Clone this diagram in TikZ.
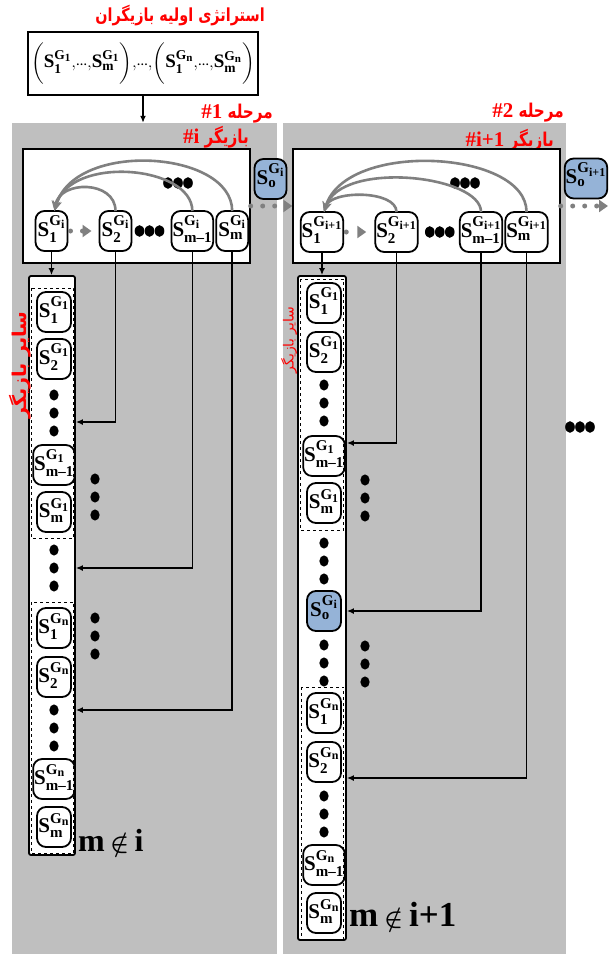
\documentclass[tikz,border=0pt]{standalone}
\usepackage{amsmath}
\usepackage{fontspec}
\setmainfont{Liberation Serif}
\newfontfamily\persian[Script=Arabic]{DejaVu Sans}
\newfontfamily\persiancond[Script=Arabic,FakeStretch=0.8]{DejaVu Sans}
\TeXXeTstate=1
\DeclareMathSizes{21}{21}{15}{12}
\DeclareMathSizes{19}{19}{13.5}{11}
\usepackage{tikz}
\usetikzlibrary{calc,arrows.meta,positioning}
\definecolor{panelgray}{RGB}{191,191,191}
\definecolor{linkgray}{RGB}{128,128,128}
\definecolor{stateblue}{RGB}{149,179,215}
\definecolor{labelred}{RGB}{255,0,0}
\newcommand{\bs}[1]{\text{\bfseries #1}}
\newcommand{\sv}[2]{\ensuremath{\bs{S}^{\bs{G}_{\bs{#2}}}_{\bs{#1}}}}
\newcommand{\ellip}{\raisebox{2pt}{\fontsize{11}{11}\selectfont\bfseries\ldots}}
\newcommand{\fa}[1]{{\persian\beginR #1\endR}}
\newcommand{\facond}[1]{{\persiancond\beginR #1\endR}}
\newcommand{\latn}[1]{\beginL{\rmfamily\fontsize{21}{21}\selectfont #1}\endL}
\tikzset{
	panel/.style={fill=panelgray, inner sep=0pt},
	game/.style={draw, line width=1.4pt, fill=white, inner sep=0pt},
	initbox/.style={
		draw, line width=1.4pt, fill=white, inner sep=0pt,
		font=\fontsize{19}{19}\selectfont
	},
	strat/.style={
		draw, line width=1.8pt, rounded corners=9pt, fill=white,
		minimum width=32pt, minimum height=40pt, inner xsep=1pt, inner ysep=0pt,
		outer sep=0pt, text height=20pt, text depth=10pt,
		font=\fontsize{21}{21}\selectfont
	},
	colstrat/.style={strat, minimum width=34pt},
	column/.style={draw, line width=1.8pt, fill=white, rounded corners=2pt, inner sep=0pt},
	group/.style={dashed, line width=0.9pt},
	link/.style={draw, line width=1.5pt, -{Latex[length=7pt,width=6pt]}},
	back/.style={draw=linkgray, line width=2.6pt, -{Stealth[length=10pt,width=9pt]}},
	dotlink/.style={
		draw=linkgray, line width=5pt, line cap=round,
		dash pattern=on 0pt off 12pt, -{Triangle[length=9pt,width=12pt]}
	},
	hdots/.style={
		minimum width=34pt, minimum height=14pt, inner sep=0pt, outer sep=0pt,
		path picture={
			\foreach \off in {-10,0,10}
				\fill ([xshift=\off pt]path picture bounding box.center) ellipse (4.8pt and 5.8pt);
		}
	},
	vdots/.style={
		minimum width=14pt, minimum height=54pt, inner sep=0pt, outer sep=0pt,
		path picture={
			\foreach \off in {-18,0,18}
				\fill ([yshift=\off pt]path picture bounding box.center) ellipse (4.6pt and 5.6pt);
		}
	},
	stagelabel/.style={text=labelred, font=\fontsize{19}{19}\selectfont\bfseries, inner sep=0pt},
	sidelabel/.style={text=labelred, font=\fontsize{19}{19}\selectfont\bfseries, inner sep=0pt},
	cond/.style={font=\fontsize{32}{32}\selectfont\bfseries, inner sep=0pt}
}
\begin{document}
\begin{tikzpicture}[x=1pt,y=-1pt]
	\useasboundingbox (0,0) rectangle (609,954);
	\node[panel, minimum width=265pt, minimum height=831pt] (stage1) at (144.5,538.5) {};
	\node[panel, minimum width=283pt, minimum height=831pt] (stage2) at (424.5,538.5) {};
	\node[initbox, minimum width=230pt, minimum height=63pt] (init) at (143,63.5)
		{$\biggl(\sv{1}{1}{,}\ellip{,}\sv{m}{1}\biggr){,}\ellip{,}\biggl(\sv{1}{n}{,}\ellip{,}\sv{m}{n}\biggr)$};
	\node[stagelabel, font=\fontsize{18}{18}\selectfont\bfseries] (inittitle) at (180,16) {\facond{استراتژی اولیه بازیگران}};
	\draw[link] (init.south) -- (init.south |- stage1.north);
	\node[stagelabel, anchor=east] (step1) at (273,114) {\facond{مرحله \latn{\#1}}};
	\node[stagelabel, anchor=east] (player1) at (249,137) {\facond{بازیگر \latn{\#i}}};
	\node[stagelabel, anchor=east] (step2) at (564,113) {\facond{مرحله \latn{\#2}}};
	\node[stagelabel, anchor=east] (player2) at (554,140) {\facond{بازیگر \latn{\#i+1}}};

	\node[game, minimum width=227pt, minimum height=114pt] (game1) at (136.5,206) {};
	\node[game, minimum width=267pt, minimum height=114pt] (game2) at (426.5,206) {};

	\node[strat] (a1) at (51.5,231) {\sv{1}{i}};
	\node[strat, right=32pt of a1] (a2) {\sv{2}{i}};
	\node[hdots, right=1pt of a2] (adots) {};
	\node[strat, right=5pt of adots] (a3) {\sv{m--1}{i}};
	\node[strat, right=3pt of a3] (a4) {\sv{m}{i}};
	\node[strat, fill=stateblue] (o1) at (270.5,179) {\sv{o}{i}};
	\node[hdots] (arcdots1) at (178,183) {};

	\node[strat] (b1) at (322,232) {\sv{1}{i+1}};
	\node[strat, right=32pt of b1] (b2) {\sv{2}{i+1}};
	\node[hdots, right=5pt of b2] (bdots) {};
	\node[strat, right=3pt of bdots] (b3) {\sv{m--1}{i+1}};
	\node[strat, right=3pt of b3] (b4) {\sv{m}{i+1}};
	\node[strat, fill=stateblue] (o2) at (586,178.5) {\sv{o}{i+1}};
	\node[hdots] (arcdots2) at (465,183) {};
	\coordinate (out2) at (608,206);

	\draw[back] (a2.north) .. controls +(0,-31) and +(5,-31) .. ([xshift=3pt]a1.north);
	\draw[back] (a3.north) .. controls +(0,-46) and +(15,-56) .. ([xshift=3pt]a1.north);
	\draw[back] (a4.north) .. controls +(0,-61) and +(20,-71) .. ([xshift=3pt]a1.north);
	\draw[back] (b2.north) .. controls +(0,-22) and +(7,-22) .. ([xshift=2pt]b1.north);
	\draw[back] (b3.north) .. controls +(0,-37) and +(17,-52) .. ([xshift=2pt]b1.north);
	\draw[back] (b4.north) .. controls +(0,-62) and +(22,-72) .. ([xshift=2pt]b1.north);

	\draw[dotlink] ([xshift=3pt]a1.east) -- ([xshift=-8pt]a2.west);
	\draw[dotlink] ([xshift=3pt]b1.east) -- ([xshift=-9pt]b2.west);
	\draw[dotlink] ($(o1.south -| game1.east)+(0,7)$) -- ($(o1.south -| game2.west)+(0,7)$);
	\draw[dotlink] (game2.east |- out2) -- (out2);

	\node[column, minimum width=46pt, minimum height=579pt] (col1) at (52,565.5) {};
	\node[colstrat] (c1a) at (54,312) {\sv{1}{1}};
	\node[colstrat, below=7pt of c1a] (c1b) {\sv{2}{1}};
	\node[vdots, below=7pt of c1b] (d1a) {};
	\node[colstrat, below=5pt of d1a] (c1c) {\sv{m--1}{1}};
	\node[colstrat, below=7pt of c1c] (c1d) {\sv{m}{1}};
	\node[vdots, below=9pt of c1d] (d1b) {};
	\node[colstrat, below=13pt of d1b] (c1e) {\sv{1}{n}};
	\node[colstrat, below=9pt of c1e] (c1f) {\sv{2}{n}};
	\node[vdots, below=4pt of c1f] (d1c) {};
	\node[colstrat, below=4pt of d1c] (c1g) {\sv{m--1}{n}};
	\node[colstrat, below=8pt of c1g] (c1h) {\sv{m}{n}};
	\draw[group] ($(col1.west |- c1a.north)+(3,-4)$) rectangle ($(col1.east |- c1d.south)+(-2,6)$);
	\draw[group] ($(col1.west |- c1e.north)+(3,-6)$) rectangle ($(col1.east |- c1h.south)+(-2,6)$);
	\node[sidelabel, rotate=90] (others1) at (20,365) {\fa{سایر بازیگر}};
	\node[vdots] (r1a) at (95,497) {};
	\node[vdots] (r1b) at (95,636) {};
	\node[cond, anchor=base west] (cond1) at (78,851) {m\,{\fontsize{24}{24}\selectfont$\boldsymbol{\notin}$}\,i};

	\node[column, minimum width=48pt, minimum height=664pt] (col2) at (322,608) {};
	\node[colstrat] (c2a) at (324,303) {\sv{1}{1}};
	\node[colstrat, below=9pt of c2a] (c2b) {\sv{2}{1}};
	\node[vdots, below=4pt of c2b] (d2a) {};
	\node[colstrat, below=6pt of d2a] (c2c) {\sv{m--1}{1}};
	\node[colstrat, below=7pt of c2c] (c2d) {\sv{m}{1}};
	\node[vdots, below=11pt of c2d] (d2b) {};
	\node[colstrat, fill=stateblue, below=3pt of d2b] (s2o) {\sv{o}{i}};
	\node[vdots, below=5pt of s2o] (d2c) {};
	\node[colstrat, below=3pt of d2c] (c2e) {\sv{1}{n}};
	\node[colstrat, below=9pt of c2e] (c2f) {\sv{2}{n}};
	\node[vdots, below=5pt of c2f] (d2d) {};
	\node[colstrat, below=4pt of d2d] (c2g) {\sv{m--1}{n}};
	\node[colstrat, below=8pt of c2g] (c2h) {\sv{m}{n}};
	\draw[group] ($(col2.west |- c2a.north)+(3,-4)$) rectangle ($(col2.east |- c2d.south)+(-3,7)$);
	\draw[group] ($(col2.west |- c2e.north)+(4,-6)$) rectangle ($(col2.east |- c2h.south)+(-3,6)$);
	\node[sidelabel, rotate=90, font=\fontsize{14}{14}\selectfont] (others2) at (289,340) {\fa{سایر بازیگر}};
	\node[vdots] (r2a) at (365,498) {};
	\node[vdots] (r2b) at (365,664) {};
	\node[cond, anchor=base west, font=\fontsize{35}{35}\selectfont\bfseries] (cond2) at (349,926) {m\,{\fontsize{26}{26}\selectfont$\boldsymbol{\notin}$}\,i+1};
	\node[hdots] (more) at (580,427) {};

	\draw[link] (a1.south) -- (a1.south |- col1.north);
	\draw[link] (a2.south) |- ($(col1.east |- d1a)+(0,9)$);
	\draw[link] (a3.south) |- (col1.east |- d1b);
	\draw[link] (a4.south) |- ($(col1.east |- d1c)+(0,-18)$);
	\draw[link] (b1.south) -- (b1.south |- col2.north);
	\draw[link] (b2.south) |- ($(col2.east |- c2c)+(0,-13)$);
	\draw[link] (b3.south) |- (col2.east |- s2o);
	\draw[link] (b4.south) |- ($(col2.east |- c2f)+(0,16)$);
\end{tikzpicture}
\end{document}
